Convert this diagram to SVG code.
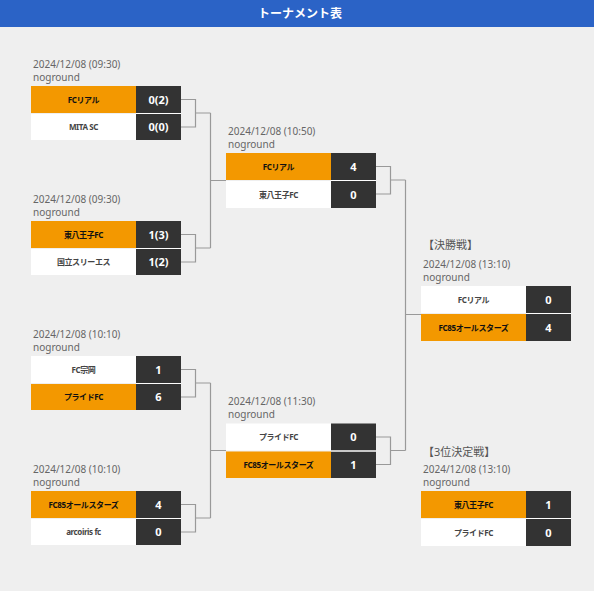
<svg xmlns="http://www.w3.org/2000/svg" width="594" height="591" viewBox="0 0 594 591">
<style>
.bg{fill:#efefef}
.hdr{fill:#2b63c6}
.title{font-family:"Noto Sans CJK JP","Noto Sans",sans-serif;font-size:12px;font-weight:bold;fill:#fff;text-anchor:middle}
.win{fill:#f39800}
.lose{fill:#fff}
.sc{fill:#333}
.info{font-family:"Noto Sans","Noto Sans CJK JP",sans-serif;font-size:10px;fill:#666}
.lbl{font-family:"Noto Sans","Noto Sans CJK JP",sans-serif;font-size:11px;fill:#555}
.name{font-family:"Noto Sans","Noto Sans CJK JP",sans-serif;font-size:8px;font-weight:bold;text-anchor:middle;letter-spacing:-0.4px}
.nw{fill:#111}
.nl{fill:#444}
.score{font-family:"Noto Sans",sans-serif;font-size:11px;font-weight:bold;fill:#fff;text-anchor:middle}
.conn{fill:none;stroke:#999;stroke-width:1.2}
</style>
<rect class="bg" x="0" y="0" width="594" height="591"/>
<g id="header">
<rect class="hdr" x="0" y="0" width="594" height="27"/>
<text class="title" x="300" y="18">トーナメント表</text>
</g>
<g id="connectors">
<path class="conn" d="M181 99.5H195.5V127H181M195.5 113H210.5"/>
<path class="conn" d="M181 234.5H195.5V262H181M195.5 248H210.5"/>
<path class="conn" d="M181 369.5H195.5V397H181M195.5 383H210.5"/>
<path class="conn" d="M181 504.5H195.5V532H181M195.5 518H210.5"/>
<path class="conn" d="M210.5 113V248M210.5 180.5H226"/>
<path class="conn" d="M210.5 383V518M210.5 450.5H226"/>
<path class="conn" d="M376 166.5H390.5V194H376M390.5 180H405.5"/>
<path class="conn" d="M376 437H390.5V464.5H376M390.5 450.5H405.5"/>
<path class="conn" d="M405.5 180V450.5M405.5 314.5H421"/>
</g>
<g id="m1">
<text class="info" x="33" y="67.5">2024/12/08 (09:30)</text>
<text class="info" x="33" y="81">noground</text>
<rect class="win" x="31" y="86" width="105" height="27"/>
<rect class="sc" x="136" y="86" width="45" height="27"/>
<rect class="lose" x="31" y="114" width="105" height="26"/>
<rect class="sc" x="136" y="114" width="45" height="26"/>
<line x1="136" y1="113.5" x2="181" y2="113.5" stroke="#fff" stroke-width="1"/>
<text class="name nw" x="83.5" y="102.5">FCリアル</text>
<text class="name nl" x="83.5" y="130">MITA SC</text>
<text class="score" x="158.5" y="103.5">0(2)</text>
<text class="score" x="158.5" y="131">0(0)</text>
</g>
<g id="m2">
<text class="info" x="33" y="202.5">2024/12/08 (09:30)</text>
<text class="info" x="33" y="216">noground</text>
<rect class="win" x="31" y="221" width="105" height="27"/>
<rect class="sc" x="136" y="221" width="45" height="27"/>
<rect class="lose" x="31" y="249" width="105" height="26"/>
<rect class="sc" x="136" y="249" width="45" height="26"/>
<line x1="136" y1="248.5" x2="181" y2="248.5" stroke="#fff" stroke-width="1"/>
<text class="name nw" x="83.5" y="237.5">東八王子FC</text>
<text class="name nl" x="83.5" y="265">国立スリーエス</text>
<text class="score" x="158.5" y="238.5">1(3)</text>
<text class="score" x="158.5" y="266">1(2)</text>
</g>
<g id="m3">
<text class="info" x="33" y="337.5">2024/12/08 (10:10)</text>
<text class="info" x="33" y="351">noground</text>
<rect class="lose" x="31" y="356" width="105" height="27"/>
<rect class="sc" x="136" y="356" width="45" height="27"/>
<rect class="win" x="31" y="384" width="105" height="26"/>
<rect class="sc" x="136" y="384" width="45" height="26"/>
<line x1="136" y1="383.5" x2="181" y2="383.5" stroke="#fff" stroke-width="1"/>
<text class="name nl" x="83.5" y="372.5">FC宗岡</text>
<text class="name nw" x="83.5" y="400">プライドFC</text>
<text class="score" x="158.5" y="373.5">1</text>
<text class="score" x="158.5" y="401">6</text>
</g>
<g id="m4">
<text class="info" x="33" y="472.5">2024/12/08 (10:10)</text>
<text class="info" x="33" y="486">noground</text>
<rect class="win" x="31" y="491" width="105" height="27"/>
<rect class="sc" x="136" y="491" width="45" height="27"/>
<rect class="lose" x="31" y="519" width="105" height="26"/>
<rect class="sc" x="136" y="519" width="45" height="26"/>
<line x1="136" y1="518.5" x2="181" y2="518.5" stroke="#fff" stroke-width="1"/>
<text class="name nw" x="83.5" y="507.5">FC85オールスターズ</text>
<text class="name nl" x="83.5" y="535">arcoiris fc</text>
<text class="score" x="158.5" y="508.5">4</text>
<text class="score" x="158.5" y="536">0</text>
</g>
<g id="r2a">
<text class="info" x="228" y="134.5">2024/12/08 (10:50)</text>
<text class="info" x="228" y="148">noground</text>
<rect class="win" x="226" y="153" width="105" height="27"/>
<rect class="sc" x="331" y="153" width="45" height="27"/>
<rect class="lose" x="226" y="181" width="105" height="27"/>
<rect class="sc" x="331" y="181" width="45" height="27"/>
<line x1="331" y1="180.5" x2="376" y2="180.5" stroke="#fff" stroke-width="1"/>
<text class="name nw" x="278.5" y="169.5">FCリアル</text>
<text class="name nl" x="278.5" y="197.5">東八王子FC</text>
<text class="score" x="353.5" y="170.5">4</text>
<text class="score" x="353.5" y="198.5">0</text>
</g>
<g id="r2b">
<text class="info" x="228" y="404.5">2024/12/08 (11:30)</text>
<text class="info" x="228" y="418">noground</text>
<rect class="lose" x="226" y="423.5" width="105" height="27"/>
<rect class="sc" x="331" y="423.5" width="45" height="27"/>
<rect class="win" x="226" y="451.5" width="105" height="26.5"/>
<rect class="sc" x="331" y="451.5" width="45" height="26.5"/>
<line x1="331" y1="451" x2="376" y2="451" stroke="#fff" stroke-width="1"/>
<text class="name nl" x="278.5" y="440">プライドFC</text>
<text class="name nw" x="278.5" y="467.5">FC85オールスターズ</text>
<text class="score" x="353.5" y="441">0</text>
<text class="score" x="353.5" y="468.5">1</text>
</g>
<g id="final">
<text class="lbl" x="423" y="249">【決勝戦】</text>
<text class="info" x="423" y="267.5">2024/12/08 (13:10)</text>
<text class="info" x="423" y="281">noground</text>
<rect class="lose" x="421" y="286" width="105" height="27"/>
<rect class="sc" x="526" y="286" width="45" height="27"/>
<rect class="win" x="421" y="314" width="105" height="27"/>
<rect class="sc" x="526" y="314" width="45" height="27"/>
<line x1="526" y1="313.5" x2="571" y2="313.5" stroke="#fff" stroke-width="1"/>
<text class="name nl" x="473.5" y="302.5">FCリアル</text>
<text class="name nw" x="473.5" y="330.5">FC85オールスターズ</text>
<text class="score" x="548.5" y="303.5">0</text>
<text class="score" x="548.5" y="331.5">4</text>
</g>
<g id="third">
<text class="lbl" x="423" y="455.5">【3位決定戦】</text>
<text class="info" x="423" y="472.5">2024/12/08 (13:10)</text>
<text class="info" x="423" y="486">noground</text>
<rect class="win" x="421" y="491" width="105" height="27"/>
<rect class="sc" x="526" y="491" width="45" height="27"/>
<rect class="lose" x="421" y="519" width="105" height="27"/>
<rect class="sc" x="526" y="519" width="45" height="27"/>
<line x1="526" y1="518.5" x2="571" y2="518.5" stroke="#fff" stroke-width="1"/>
<text class="name nw" x="473.5" y="507.5">東八王子FC</text>
<text class="name nl" x="473.5" y="535.5">プライドFC</text>
<text class="score" x="548.5" y="508.5">1</text>
<text class="score" x="548.5" y="536.5">0</text>
</g>
</svg>
